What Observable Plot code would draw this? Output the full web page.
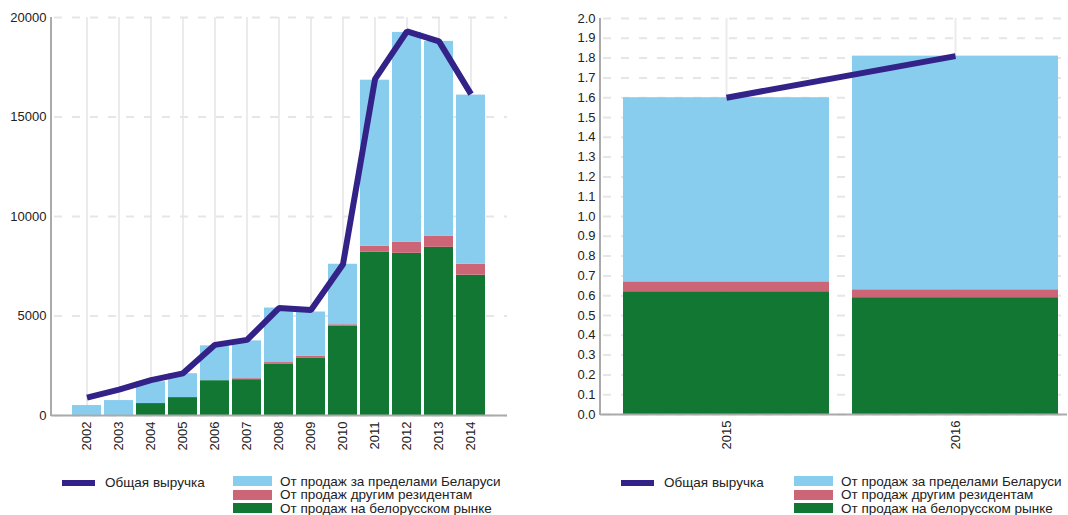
<!DOCTYPE html>
<html><head><meta charset="utf-8">
<script src="https://cdn.jsdelivr.net/npm/d3@7"></script>
<script src="https://cdn.jsdelivr.net/npm/@observablehq/plot@0.6"></script>
<style>
body{margin:0;background:#fff;font-family:"Liberation Sans",Arial,Helvetica,sans-serif;}
#wrap{position:relative;width:1068px;height:515px;overflow:hidden;}
.chart{position:absolute;top:0;}
.leg{position:absolute;font-size:13.5px;color:#222;white-space:nowrap;line-height:13px;}
.sw{position:absolute;}
</style>
</head><body><div id="wrap"></div>
<script>
// ---- data: left chart (2002-2014) ----
const years1 = ["2002","2003","2004","2005","2006","2007","2008","2009","2010","2011","2012","2013","2014"];
const domestic1 = [0, 0, 600, 900, 1750, 1800, 2570, 2870, 4500, 8200, 8150, 8450, 7050];
const residents1 = [0, 0, 0, 0, 0, 50, 90, 100, 60, 300, 550, 550, 550];
const abroad1 = [500, 750, 1100, 1200, 1750, 1900, 2740, 2230, 3040, 8350, 10550, 9800, 8500];
const total1 = [900, 1300, 1780, 2120, 3550, 3800, 5400, 5300, 7600, 16900, 19300, 18800, 16150];
const yTicks1 = [0, 5000, 10000, 15000, 20000];

// ---- data: right chart (2015-2016) ----
const years2 = ["2015","2016"];
const domestic2 = [0.62, 0.59];
const residents2 = [0.05, 0.04];
const abroad2 = [0.93, 1.18];
const total2 = [1.60, 1.81];
const yTicks2 = [0,0.1,0.2,0.3,0.4,0.5,0.6,0.7,0.8,0.9,1.0,1.1,1.2,1.3,1.4,1.5,1.6,1.7,1.8,1.9,2.0];

// ---- series / legend ----
const lineName = "Общая выручка";
const seriesNames = ["От продаж за пределами Беларуси","От продаж другим резидентам","От продаж на белорусском рынке"];
const seriesColors = ["#88CCEE","#CC6677","#117733"];
const lineColor = "#332288";

const FONT = '"Liberation Sans", Arial, Helvetica, sans-serif';

function rowsOf(years, dom, res, abr) {
  const out = [];
  years.forEach((y, i) => {
    out.push({year: y, series: seriesNames[2], value: dom[i]});
    out.push({year: y, series: seriesNames[1], value: res[i]});
    out.push({year: y, series: seriesNames[0], value: abr[i]});
  });
  return out;
}

function makeChart(cfg) {
  const rows = rowsOf(cfg.years, cfg.dom, cfg.res, cfg.abr);
  const totals = cfg.years.map((y, i) => ({year: y, total: cfg.total[i]}));
  const chart = Plot.plot({
    width: cfg.width, height: cfg.height,
    marginLeft: cfg.ml, marginRight: cfg.mr, marginTop: cfg.mt, marginBottom: cfg.mb,
    style: {fontFamily: FONT, fontSize: "13px", color: "#222", background: "transparent"},
    x: Object.assign({domain: cfg.years, label: null, tickSize: 0, tickRotate: -90, tickPadding: 6}, cfg.xopts),
    y: {domain: cfg.ydomain, ticks: cfg.yticks, tickFormat: cfg.yfmt, label: null, tickSize: 0, tickPadding: 5},
    color: {domain: seriesNames, range: seriesColors},
    marks: [
      Plot.ruleX(cfg.years, {stroke: "#ebebeb", strokeWidth: 2}),
      Plot.gridY(cfg.yticks, {stroke: "#e6e6e6", strokeOpacity: 1, strokeWidth: 2, strokeDasharray: "8,10", strokeDashoffset: 15}),
      Plot.barY(rows, {x: "year", y: "value", fill: "series", order: null}),
      Plot.lineY(totals, {x: "year", y: "total", stroke: lineColor, strokeWidth: 6, strokeLinecap: "butt", strokeLinejoin: "miter"}),
      Plot.ruleY([cfg.ydomain[0]], {stroke: "#aaa", strokeWidth: 2})
    ]
  });
  // left axis line along the frame edge
  const y = chart.scale("y");
  d3.select(chart).append("line")
    .attr("x1", cfg.ml).attr("x2", cfg.ml)
    .attr("y1", y.apply(cfg.ydomain[1])).attr("y2", y.apply(cfg.ydomain[0]) + 1)
    .attr("stroke", "#aaa").attr("stroke-width", 2);
  chart.classList.add("chart");
  chart.style.left = cfg.left + "px";
  return chart;
}

const wrap = document.getElementById("wrap");

wrap.appendChild(makeChart({
  left: 0, width: 530, height: 460, ml: 51, mr: 23, mt: 17, mb: 45,
  years: years1, dom: domestic1, res: residents1, abr: abroad1, total: total1,
  ydomain: [0, 20000], yticks: yTicks1, yfmt: d => String(d),
  xopts: {paddingInner: 0.08, paddingOuter: 0.63}
}));

wrap.appendChild(makeChart({
  left: 540, width: 528, height: 460, ml: 60, mr: 1, mt: 18, mb: 46,
  years: years2, dom: domestic2, res: residents2, abr: abroad2, total: total2,
  ydomain: [0, 2], yticks: yTicks2, yfmt: d3.format(".1f"),
  xopts: {paddingInner: 0.1, paddingOuter: 0.05, range: [71.5, 530.5]}
}));

function legend(lineX, boxX) {
  const ln = document.createElement("div");
  ln.className = "sw";
  Object.assign(ln.style, {left: lineX + "px", top: "480px", width: "33px", height: "6px", background: lineColor});
  wrap.appendChild(ln);
  const lt = document.createElement("div");
  lt.className = "leg";
  Object.assign(lt.style, {left: (lineX + 43) + "px", top: "476px"});
  lt.textContent = lineName;
  wrap.appendChild(lt);
  seriesNames.forEach((name, i) => {
    const top = 476 + i * 13.5;
    const b = document.createElement("div");
    b.className = "sw";
    Object.assign(b.style, {left: boxX + "px", top: top + "px", width: "39px", height: "10px", background: seriesColors[i]});
    wrap.appendChild(b);
    const t = document.createElement("div");
    t.className = "leg";
    Object.assign(t.style, {left: (boxX + 47) + "px", top: (top - 1.5) + "px"});
    t.textContent = name;
    wrap.appendChild(t);
  });
}
legend(62, 233);
legend(621, 794);
</script>
</body></html>
